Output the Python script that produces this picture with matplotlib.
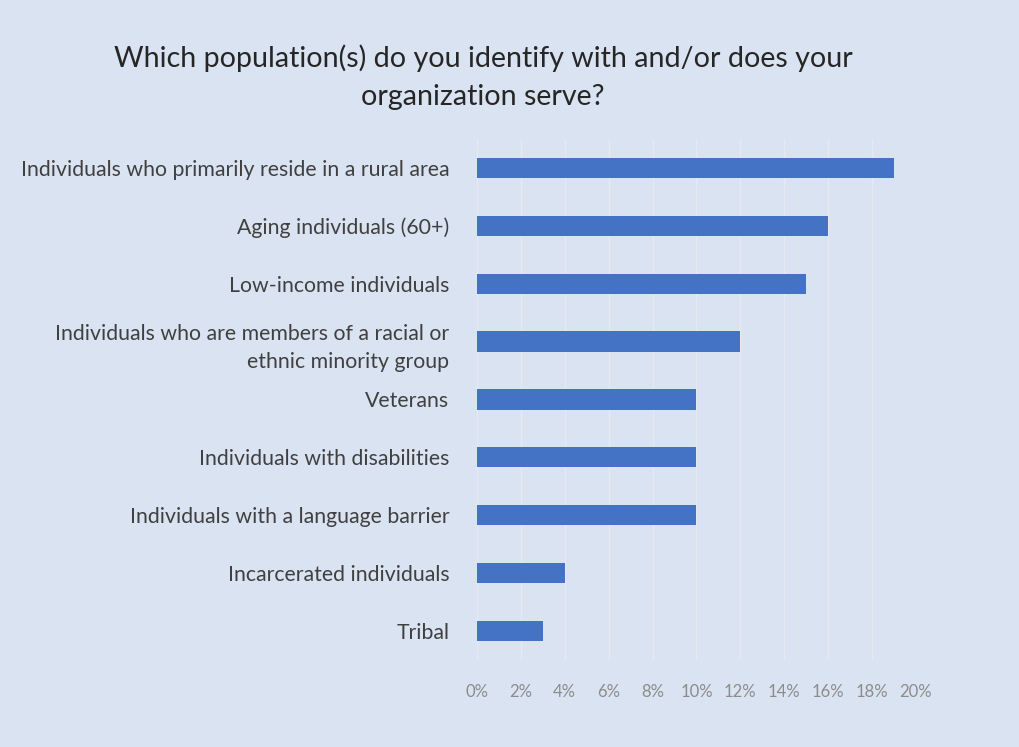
import numpy as np
import matplotlib
matplotlib.use("Agg")
import matplotlib.pyplot as plt
from matplotlib.ticker import FuncFormatter

plt.rcParams['font.family'] = ['Lato', 'DejaVu Sans']

categories = [
    "Individuals who primarily reside in a rural area",
    "Aging individuals (60+)",
    "Low-income individuals",
    "Individuals who are members of a racial or\nethnic minority group",
    "Veterans",
    "Individuals with disabilities",
    "Individuals with a language barrier",
    "Incarcerated individuals",
    "Tribal",
]
shares = [0.19, 0.16, 0.15, 0.12, 0.10, 0.10, 0.10, 0.04, 0.03]
xticks = [0, 0.02, 0.04, 0.06, 0.08, 0.10, 0.12, 0.14, 0.16, 0.18, 0.20]

bg = "#dae3f1"
fig = plt.figure(figsize=(10.2, 7.47), dpi=100, facecolor=bg)
ax = fig.add_axes([0.4676, 0.1165, 0.4304, 0.6975], facecolor=bg)

y = np.arange(len(categories))
ax.barh(y, shares, height=0.35, color="#4472c4", zorder=3)
ax.set_ylim(len(categories) - 0.5, -0.5)
ax.set_xlim(0, 0.2)
ax.set_xticks(xticks)
ax.xaxis.set_major_formatter(FuncFormatter(lambda v, p: f"{v*100:.0f}%"))
ax.set_yticks(y)
ax.set_yticklabels(categories, fontsize=15.3, color="#404040", linespacing=1.5)
ax.tick_params(axis="x", colors="#8c8c8c", labelsize=12, length=0, pad=17)
ax.tick_params(axis="y", length=0, pad=20)
ax.grid(axis="x", color="#e4e9f2", linewidth=1, zorder=0)
for s in ax.spines.values():
    s.set_visible(False)

fig.text(0.4735, 0.897, "Which population(s) do you identify with and/or does your\norganization serve?",
         ha="center", va="center", fontsize=20.6, color="#262626", linespacing=1.55)

fig.savefig("out.png", dpi=100, facecolor=bg)
